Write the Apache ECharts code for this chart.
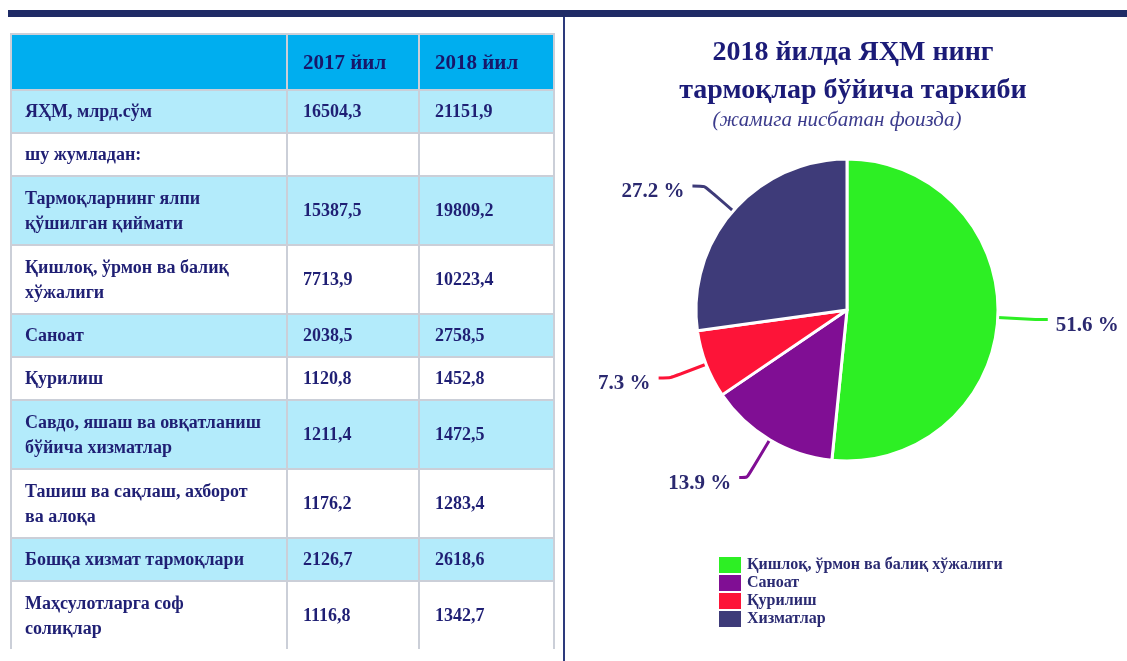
<!DOCTYPE html>
<html>
<head>
<meta charset="utf-8">
<script src="https://cdn.jsdelivr.net/npm/echarts@6/dist/echarts.min.js"></script>
<style>
  html, body { margin: 0; padding: 0; background: #fff; }
  body { width: 1127px; height: 661px; position: relative; overflow: hidden; }
  #chart { position: absolute; left: 0; top: 0; width: 1127px; height: 661px; }
  .top-bar { position: absolute; left: 8px; top: 10px; width: 1119px; height: 7px; background: #1f2b66; }
  .divider { position: absolute; left: 563px; top: 17px; width: 2px; height: 644px; background: #2d3a7c; }
  .table-wrap { position: absolute; left: 10px; top: 33px; z-index: 2; }
  table { border-collapse: collapse; table-layout: fixed; font-family: 'Liberation Serif', 'DejaVu Serif', serif; font-weight: bold; color: #1f1f74; }
  td, th { border: 2px solid #cbcfd8; padding: 0; vertical-align: middle; text-align: left; }
  th { background: #00aeef; font-size: 21px; font-weight: bold; padding-left: 15px; height: 54px; color: #17176a; }
  td { font-size: 18px; line-height: 25px; white-space: pre-line; }
  td.label { padding-left: 13px; }
  td.num { padding-left: 15px; }
  tr.light td { background: #b3ebfb; }
  tr:last-child td { border-bottom: none; }
</style>
</head>
<body>
<div class="top-bar"></div>
<div class="divider"></div>
<div id="chart"></div>
<div class="table-wrap"><table id="tbl"></table></div>
<script>
// table data
const headers = ['', '2017 йил', '2018 йил']
const rowLabels = [
  'ЯҲМ, млрд.сўм',
  'шу жумладан:',
  'Тармоқларнинг ялпи\nқўшилган қиймати',
  'Қишлоқ, ўрмон ва балиқ\nхўжалиги',
  'Саноат',
  'Қурилиш',
  'Савдо, яшаш ва овқатланиш\nбўйича хизматлар',
  'Ташиш ва сақлаш, ахборот\nва алоқа',
  'Бошқа хизмат тармоқлари',
  'Маҳсулотларга соф\nсолиқлар'
]
const values2017 = ['16504,3', '', '15387,5', '7713,9', '2038,5', '1120,8', '1211,4', '1176,2', '2126,7', '1116,8']
const values2018 = ['21151,9', '', '19809,2', '10223,4', '2758,5', '1452,8', '1472,5', '1283,4', '2618,6', '1342,7']

// pie data
const pieNames = ['Қишлоқ, ўрмон ва балиқ хўжалиги', 'Саноат', 'Қурилиш', 'Хизматлар']
const pieValues = [51.6, 13.9, 7.3, 27.2]
const pieColors = ['#2def24', '#800e94', '#fd1438', '#3e3b79']
const lineLengths = [38, 44, 38, 38]
const lineLengths2 = [12, 8, 12, 12]

const rowHeights = [43, 43, 69, 69, 43, 43, 69, 69, 43, 68]
const colWidths = [276, 132, 135]

function buildTable() {
  const tbl = document.getElementById('tbl')
  let html = '<colgroup>' + colWidths.map(w => `<col style="width:${w}px">`).join('') + '</colgroup>'
  html += '<tr>' + headers.map(h => `<th>${h}</th>`).join('') + '</tr>'
  rowLabels.forEach((label, i) => {
    const cls = i % 2 === 0 ? 'light' : ''
    html += `<tr class="${cls}" style="height:${rowHeights[i]}px">` +
      `<td class="label">${label}</td>` +
      `<td class="num">${values2017[i]}</td>` +
      `<td class="num">${values2018[i]}</td></tr>`
  })
  tbl.innerHTML = html
}

buildTable()

const serif = "'Liberation Serif', 'DejaVu Serif', serif"
const chart = echarts.init(document.getElementById('chart'))

chart.setOption({
  animation: false,
  color: pieColors,
  title: [
    {
      text: '2018 йилда ЯҲМ нинг\nтармоқлар бўйича таркиби',
      left: 853,
      top: 34,
      textAlign: 'center',
      padding: 0,
      textStyle: {
        fontFamily: serif,
        fontWeight: 'bold',
        fontSize: 28,
        lineHeight: 38,
        color: '#1b1b78'
      }
    },
    {
      text: '(жамига нисбатан фоизда)',
      left: 837,
      top: 109,
      textAlign: 'center',
      padding: 0,
      textStyle: {
        fontFamily: serif,
        fontStyle: 'italic',
        fontWeight: 'normal',
        fontSize: 21,
        lineHeight: 22,
        color: '#3b3b8c'
      }
    }
  ],
  legend: {
    orient: 'vertical',
    left: 717,
    top: 555,
    padding: 0,
    itemGap: -2,
    itemWidth: 24,
    itemHeight: 18,
    icon: 'rect',
    data: pieNames,
    textStyle: {
      fontFamily: serif,
      fontWeight: 'bold',
      fontSize: 16,
      lineHeight: 18,
      color: '#2a2a72'
    }
  },
  series: [
    {
      type: 'pie',
      center: [847, 310],
      radius: 151,
      startAngle: 90,
      clockwise: true,
      itemStyle: {
        borderColor: '#ffffff',
        borderWidth: 3
      },
      label: {
        show: true,
        position: 'outside',
        formatter: '{c} %',
        fontFamily: serif,
        fontWeight: 'bold',
        fontSize: 21,
        color: '#2b2970',
        overflow: 'none',
        distanceToLabelLine: 8
      },
      labelLayout: { dy: 6 },
      labelLine: {
        show: true,
        length: 38,
        length2: 12,
        smooth: 0.2,
        lineStyle: { width: 3 }
      },
      data: pieNames.map((name, i) => ({
        name,
        value: pieValues[i],
        labelLine: { length: lineLengths[i], length2: lineLengths2[i] }
      }))
    }
  ]
})
</script>
</body>
</html>
